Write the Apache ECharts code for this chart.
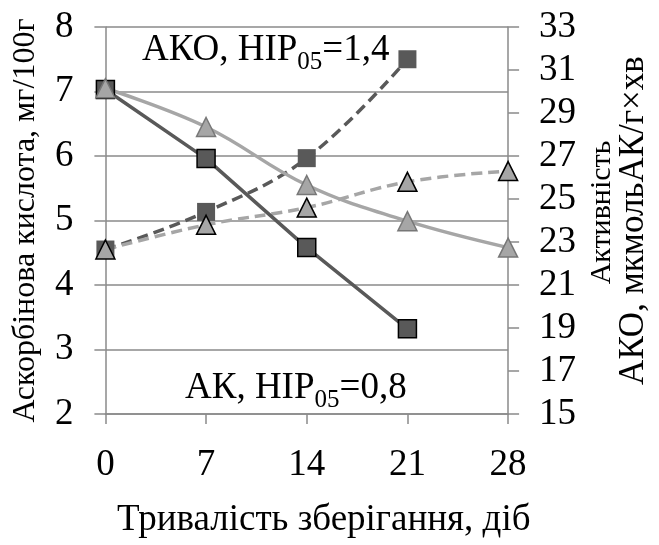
<!DOCTYPE html>
<html><head><meta charset="utf-8">
<script src="https://cdn.jsdelivr.net/npm/echarts@6/dist/echarts.min.js"></script>
<style>html,body{margin:0;padding:0;background:#fff}#c{width:659px;height:545px}</style>
</head><body><div id="c"></div>
<script>
// X categories (storage days)
const days = [0, 7, 14, 21, 28];
// Left axis: ascorbic acid, mg/100g
const akDark = [7.03, 5.96, 4.58, 3.32];
const akLight = [7.05, 6.45, 5.55, 4.99, 4.58];
// Right axis: AKO activity
const akoDark = [22.65, 24.4, 26.9, 31.5];
const akoLight = [22.65, 23.8, 24.6, 25.8, 26.3];
// Axis ranges [min, max, step]
const leftRange = [2, 8, 1];
const rightRange = [15, 33, 2];
const xRange = [0, 28, 7];

const FONT = "'Liberation Serif','Times New Roman',serif";
const DARK = '#595959', LIGHT = '#a6a6a6', GRID = '#8a8a8a';
const pairs = arr => arr.map((v, i) => [days[i], v]);

const chart = echarts.init(document.getElementById('c'), null, {renderer: 'canvas'});
const sub = (main1, s, main2) => '{a|' + main1 + '}{s|' + s + '}{a|' + main2 + '}';
const rich = {
  a: {fontFamily: FONT, fontSize: 37, color: '#000', lineHeight: 48, verticalAlign: 'middle'},
  s: {fontFamily: FONT, fontSize: 25, color: '#000', lineHeight: 48, verticalAlign: 'bottom'}
};
const tickFont = {fontFamily: FONT, fontSize: 37, color: '#000'};
chart.setOption({
  animation: false,
  backgroundColor: '#fff',
  grid: {left: 104, right: 132, top: 27, bottom: 127, containLabel: false},
  xAxis: {
    type: 'value', min: xRange[0], max: xRange[1], interval: xRange[2],
    name: 'Тривалість зберігання, діб', nameLocation: 'middle', nameGap: 86,
    nameTextStyle: {fontFamily: FONT, fontSize: 37, color: '#000', lineHeight: 40, padding: [0, 0, 0, 34]},
    axisLine: {show: true, lineStyle: {color: GRID, width: 1.5}},
    axisTick: {show: true, inside: false, length: 10, lineStyle: {color: GRID, width: 1.5}},
    axisLabel: Object.assign({margin: 33}, tickFont),
    splitLine: {show: false}
  },
  yAxis: [{
    type: 'value', min: leftRange[0], max: leftRange[1], interval: leftRange[2], position: 'left',
    name: 'Аскорбінова кислота, мг/100г', nameLocation: 'middle', nameGap: 58, nameRotate: 90,
    nameTextStyle: {fontFamily: FONT, fontSize: 32, color: '#000', lineHeight: 36},
    axisLine: {show: true, lineStyle: {color: GRID, width: 1.5}},
    axisTick: {show: true, length: 11, lineStyle: {color: GRID, width: 1.5}},
    axisLabel: Object.assign({margin: 32}, tickFont),
    splitLine: {show: true, lineStyle: {color: GRID, width: 1.5}}
  }, {
    type: 'value', min: rightRange[0], max: rightRange[1], interval: rightRange[2], position: 'right',
    name: '{a|Активність}\n{b|АКО, мкмольАК/г×хв}', nameLocation: 'middle', nameGap: 73, nameRotate: 90,
    nameTextStyle: {
      color: '#000', align: 'center',
      rich: {
        a: {fontFamily: FONT, fontSize: 30, color: '#000', lineHeight: 29, align: 'center', padding: [0, 0, 0, 16]},
        b: {fontFamily: FONT, fontSize: 35, color: '#000', lineHeight: 34, align: 'center'}
      }
    },
    axisLine: {show: true, lineStyle: {color: GRID, width: 1.5}},
    axisTick: {show: true, length: 11, lineStyle: {color: GRID, width: 1.5}},
    axisLabel: Object.assign({margin: 31}, tickFont),
    splitLine: {show: false}
  }],
  series: [{
    type: 'line', yAxisIndex: 1, data: pairs(akoDark), smooth: 0.4,
    lineStyle: {color: DARK, width: 3.5, type: [11, 6]},
    symbol: 'rect', symbolSize: 18,
    itemStyle: {color: DARK, borderColor: DARK, borderWidth: 0}
  }, {
    type: 'line', yAxisIndex: 1, data: pairs(akoLight), smooth: 0.4,
    lineStyle: {color: LIGHT, width: 3.5, type: [11, 6]},
    symbol: 'triangle', symbolSize: 19,
    itemStyle: {color: LIGHT, borderColor: '#000', borderWidth: 1.5}
  }, {
    type: 'line', yAxisIndex: 0, data: pairs(akDark), smooth: false,
    lineStyle: {color: DARK, width: 3.5},
    symbol: 'rect', symbolSize: 18,
    itemStyle: {color: DARK, borderColor: '#000', borderWidth: 1.5}
  }, {
    type: 'line', yAxisIndex: 0, data: pairs(akLight), smooth: 0.4,
    lineStyle: {color: LIGHT, width: 3.5},
    symbol: 'triangle', symbolSize: 19,
    itemStyle: {color: LIGHT, borderColor: '#777', borderWidth: 1.5}
  }],
  graphic: [{
    type: 'text', left: 142, top: 32,
    style: {text: sub('АКО, НІР', '05', '=1,4'), rich: rich}
  }, {
    type: 'text', left: 185, top: 370,
    style: {text: sub('АК, НІР', '05', '=0,8'), rich: rich}
  }]
});
</script></body></html>
